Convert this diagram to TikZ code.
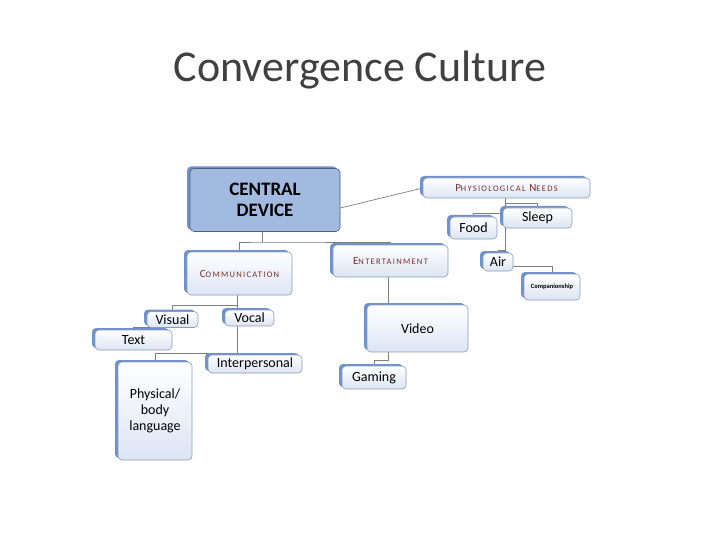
\documentclass[tikz,border=0pt]{standalone}
\usepackage{fontspec}
\setmainfont{Carlito}
\usetikzlibrary{shadows,backgrounds}
\definecolor{boxline}{HTML}{8A9CBC}
\definecolor{boxfill}{HTML}{DCE5F3}
\definecolor{boxshade}{HTML}{6F92CC}
\definecolor{centralfill}{HTML}{A2BADF}
\definecolor{centralline}{HTML}{4F5F7F}
\definecolor{capred}{HTML}{7A2E2E}
\definecolor{linkgray}{HTML}{7F7F7F}
\definecolor{titlegray}{HTML}{404040}
% fake small caps: big first letter, smaller rest
\newcommand{\capsword}[2]{{\fontsize{11}{13}\selectfont #1}{\fontsize{8.5}{10}\selectfont #2}}

\begin{document}
\begin{tikzpicture}[x=1pt,y=-1pt,
  box/.style={draw=boxline,line width=0.6pt,rounded corners=4pt,top color=white,bottom color=boxfill,
    general shadow={fill=boxshade,shadow xshift=-3pt,shadow yshift=2pt},
    inner sep=0pt,align=center,font=\fontsize{14}{16}\selectfont},
  capsbox/.style={box,text=capred,font=\addfontfeatures{LetterSpace=15}},
  link/.style={draw=linkgray,line width=0.7pt}]
\useasboundingbox (0,0) rectangle (720,540);

\node[anchor=base,text=titlegray,font=\fontsize{44}{50}\selectfont] (title) at (360,82) {Convergence Culture};

\node[box,top color=centralfill,bottom color=centralfill,draw=centralline,
  font=\bfseries\fontsize{19}{21}\selectfont,minimum width=150,minimum height=63] (central) at (265,200) {CENTRAL\\DEVICE};
\node[capsbox,minimum width=167,minimum height=20] (phys) at (506.5,188) {\capsword{P}{HYSIOLOGICAL} \capsword{N}{EEDS}};
\node[box,minimum width=47,minimum height=22] (food) at (473.5,228) {Food};
\node[box,minimum width=69,minimum height=20] (sleep) at (537.5,218) {Sleep};
\node[box,minimum width=30,minimum height=18] (air) at (498,262) {Air};
\node[box,font=\bfseries\fontsize{6.5}{8}\selectfont,minimum width=56,minimum height=26] (comp) at (552,287) {Companionship};
\node[capsbox,minimum width=115,minimum height=32] (ent) at (390.5,261) {\capsword{E}{NTERTAINMENT}};
\node[capsbox,minimum width=105,minimum height=43] (comm) at (239.5,273.5) {\capsword{C}{OMMUNICATION}};
\node[box,minimum width=51,minimum height=16] (visual) at (172.5,319.5) {Visual};
\node[box,minimum width=49,minimum height=16] (vocal) at (249.5,318) {Vocal};
\node[box,minimum width=77,minimum height=20] (text) at (133.5,340) {Text};
\node[box,minimum width=94,minimum height=18] (inter) at (255,364) {Interpersonal};
\node[box,minimum width=74,minimum height=98] (physical) at (155,411) {Physical/\\body\\language};
\node[box,minimum width=101,minimum height=47] (video) at (417.5,328.5) {Video};
\node[box,minimum width=64,minimum height=23] (gaming) at (374,377.5) {Gaming};

\begin{scope}[on background layer]
\coordinate (cj) at (262,242);
\draw[link] (central.south -| cj) -- (cj);
\draw[link] (comm.north) |- (cj) -| (ent.north);
\draw[link] ([yshift=-8pt]central.east) -- (phys.west);
% physiological needs
\coordinate (pj) at (505,203);
\coordinate (pa) at (505,213);
\coordinate (pb) at (505,250);
\draw[link] (phys.south -| pj) -- (pb) -| (air.north);
\draw[link] (pj) -| (sleep.north);
\draw[link] (pa) -| (food.north);
\draw[link] ([yshift=-4pt]air.east) -| (comp.north);
% communication
\coordinate (mj) at (237,305);
\coordinate (vj) at (237,353);
\draw[link] (comm.south -| mj) -- (mj) -| (visual.north);
\draw[link] (mj) -- (vocal.north -| mj);
\draw[link] (vocal.south -| vj) -- (vj) -| (inter.north);
\draw[link] (vj) -| (physical.north);
\draw[link] (visual.south) -| (text.north);
% entertainment
\coordinate (ej) at (388,303);
\coordinate (gj) at (388,360);
\draw[link] (ent.south -| ej) -- (ej) -| (video.north);
\draw[link] (video.south -| gj) -- (gj) -| (gaming.north);
\end{scope}
\end{tikzpicture}
\end{document}
